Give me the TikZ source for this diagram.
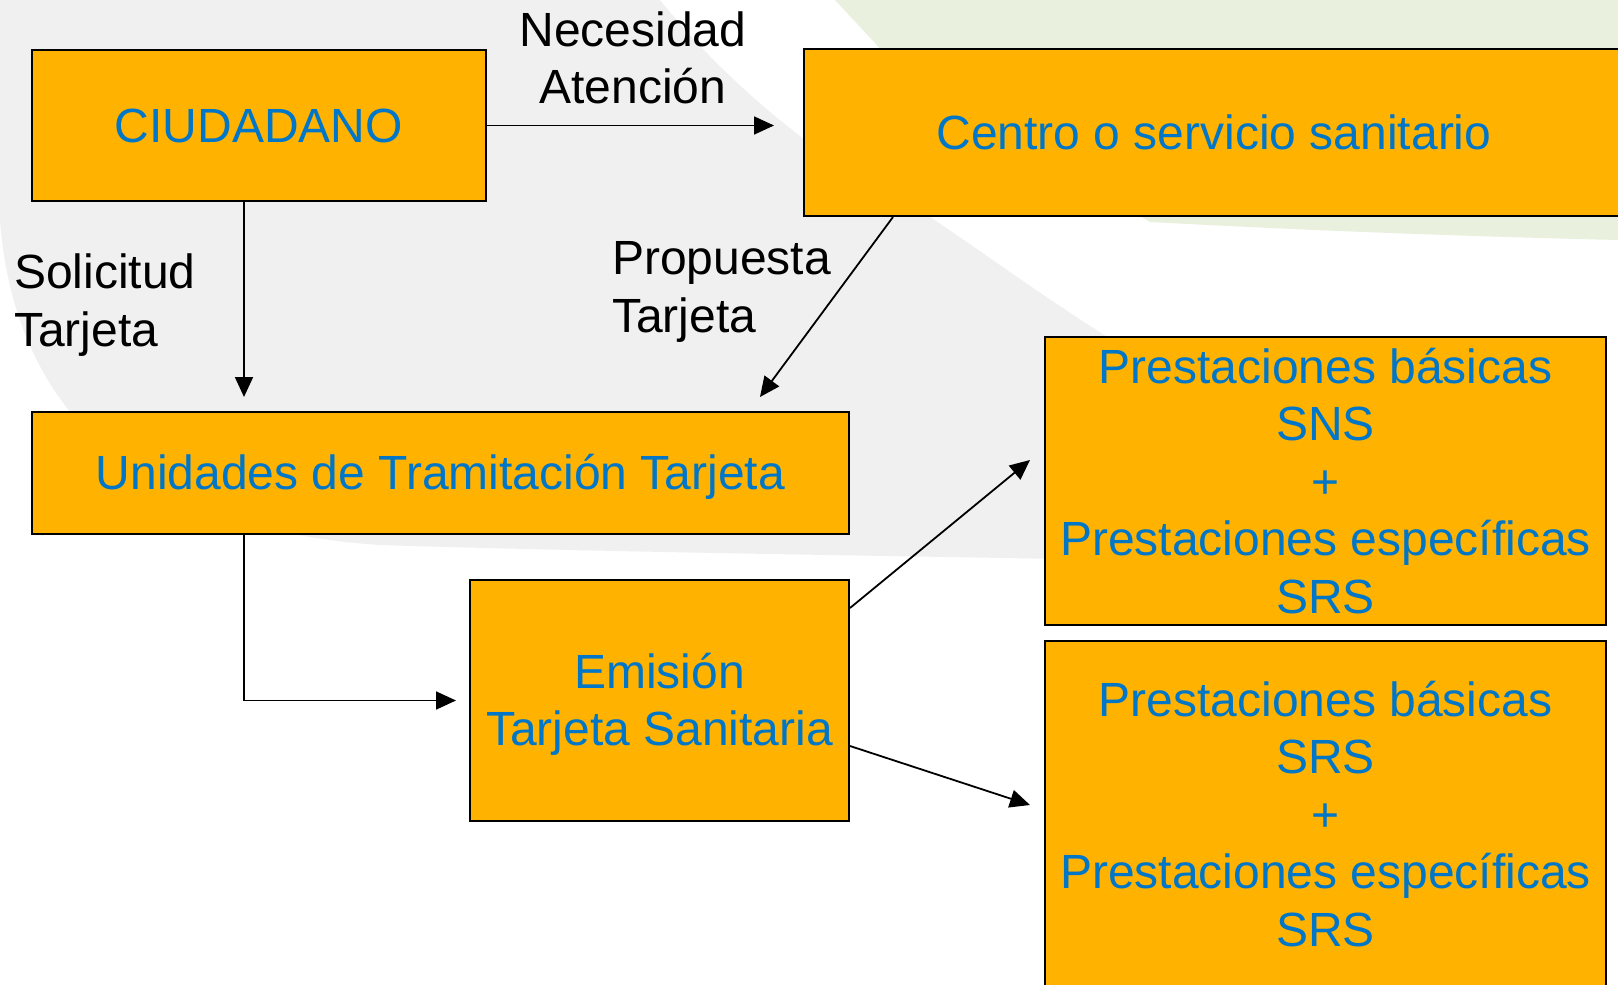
\documentclass[tikz,border=0pt]{standalone}
\usepackage{fontspec}
\setmainfont{Liberation Sans}
\usetikzlibrary{arrows.meta}
\definecolor{cajanaranja}{RGB}{255,178,0}
\definecolor{textoazul}{RGB}{0,118,200}
\definecolor{fondogris}{RGB}{240,240,240}
\definecolor{fondoverde}{RGB}{233,240,222}

\begin{document}
\begin{tikzpicture}[x=1pt, y=-1pt,
    caja/.style={rectangle, draw=black, line width=2pt, fill=cajanaranja, text=textoazul,
        inner sep=0pt, align=center, font=\fontsize{48}{57.5}\selectfont},
    etiqueta/.style={inner sep=0pt, font=\fontsize{48}{57.5}\selectfont},
    flecha/.style={line width=1.8pt, -{Triangle[length=20pt, width=18pt]}}]

    % fondo
    \clip (0,0) rectangle (1618,985);
    \fill[white] (0,0) rectangle (1618,985);
    \fill[fondoverde] (835,0) -- (1618,0) -- (1618,240) .. controls (1450,236) and (1300,230) .. (1150,222) -- (900,70) -- cycle;
    \fill[fondogris] (0,0) -- (660,0) .. controls (740,100) and (850,180) .. (927,215)
        .. controls (980,250) and (1040,295) .. (1120,345) -- (1120,560)
        .. controls (900,556) and (600,552) .. (380,545) .. controls (150,530) and (15,420) .. (0,220) -- cycle;

    % cajas
    \node[caja, minimum width=454pt, minimum height=151pt] (ciud) at (259,125.5) {CIUDADANO};
    \node[caja, minimum width=820pt, minimum height=167pt] (centro) at (1214,132.5) {Centro o servicio sanitario};
    \node[caja, minimum width=817pt, minimum height=122pt, text depth=2pt] (unid) at (440.5,473) {Unidades de Tramitación Tarjeta};
    \node[caja, minimum width=379pt, minimum height=241pt, text depth=2pt] (emis) at (659.5,700.5) {Emisión\\Tarjeta Sanitaria};
    \node[caja, minimum width=561pt, minimum height=288pt] (prest1) at (1325.5,481) {Prestaciones básicas\\SNS\\+\\Prestaciones específicas\\SRS};
    \node[caja, minimum width=561pt, minimum height=346pt] (prest2) at (1325.5,814) {Prestaciones básicas\\SRS\\+\\Prestaciones específicas\\SRS};

    % etiquetas
    \node[etiqueta, align=center] (necesidad) at (633,58) {Necesidad\\Atención};
    \node[etiqueta, align=left, anchor=west] (solicitud) at (14,305) {Solicitud\\Tarjeta};
    \node[etiqueta, align=left, anchor=west] (propuesta) at (612,292) {Propuesta\\Tarjeta};

    % puntas de flecha
    \coordinate (pA) at (774,125.5);
    \coordinate (pB) at (244,397);
    \coordinate (pC) at (760,397);
    \coordinate (pD) at (456,700.5);
    \coordinate (pE) at (1030,460);
    \coordinate (pF) at (1030,805);

    \draw[flecha] (ciud.east) -- (pA);
    \draw[flecha] (ciud.south -| pB) -- (pB);
    \draw[flecha] ([xshift=90pt]centro.south west) -- (pC);
    \draw[flecha] (unid.south -| pB) |- (pD);
    \draw[flecha] ([yshift=-29pt]emis.north east) -- (pE);
    \draw[flecha] ([yshift=-167pt]emis.north east) -- (pF);
\end{tikzpicture}
\end{document}
